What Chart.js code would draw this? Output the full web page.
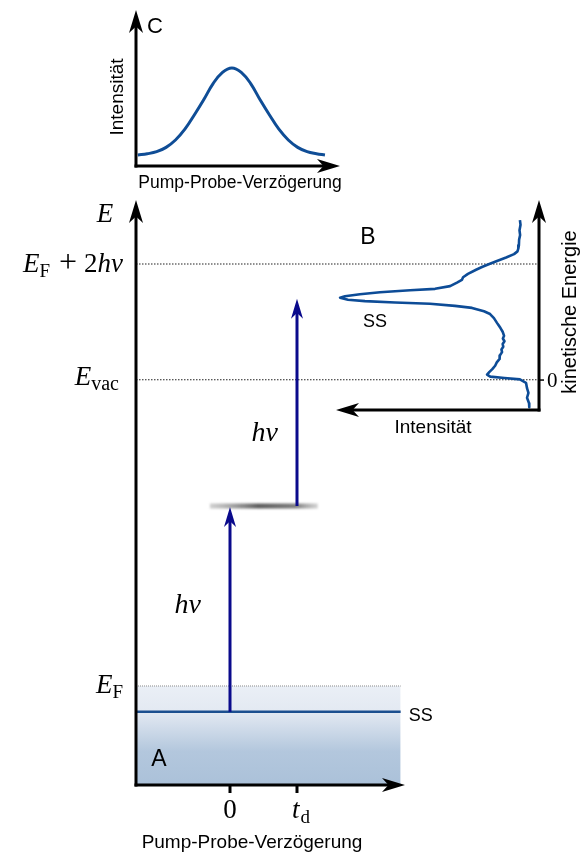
<!DOCTYPE html>
<html>
<head>
<meta charset="utf-8">
<script src="https://cdn.jsdelivr.net/npm/chart.js@4.4.0/dist/chart.umd.min.js"></script>
<style>
body{margin:0;background:#fff;}
#wrap{position:relative;width:581px;height:854px;}
#wrap canvas{position:absolute;left:0;top:0;}
</style>
</head>
<body>
<div id="wrap">
<canvas id="chartA" width="581" height="854"></canvas>
<canvas id="chartB" width="581" height="854"></canvas>
<canvas id="chartC" width="581" height="854"></canvas>
</div>
<script>
// --- A: energy scheme (eV relative to E_F) vs. pump-probe delay ---
const delayTicks = [0, 1];
const delayRange = [-1.403, 2.612];
const energyRange = [-1.455, 7.141];
const bandEnd = 2.547;
const levelEF = 0;
const levelSS = -0.38;
const levelInter = 2.645;
const interSpan = [-0.3, 1.31];
const levelVac = 4.5;
const levelTop = 6.2;           // E_F + 2hv
const dottedEnd = 4.63;
const pumpShaft = [levelSS, 2.44];
const probeShaft = [levelInter, 5.5];

// --- B: photoemission spectrum, kinetic energy (eV) vs. intensity ---
const kinEnergy = [2.35, 2.28, 2.20, 2.13, 2.06, 1.98, 1.93, 1.89, 1.85, 1.80, 1.75, 1.70, 1.66, 1.62,
  1.56, 1.51, 1.47, 1.43, 1.38, 1.34, 1.32, 1.29, 1.26, 1.23, 1.21, 1.18, 1.16, 1.14, 1.12, 1.09,
  1.06, 1.01, 0.97, 0.91, 0.84, 0.80, 0.76, 0.71, 0.65, 0.61, 0.57, 0.53, 0.49, 0.45, 0.41, 0.36,
  0.31, 0.26, 0.21, 0.16, 0.12, 0.08, 0.05, 0.03, 0.01, -0.04, -0.12, -0.19, -0.26, -0.34, -0.40];
const specIntensity = [9.4, 9.1, 9.6, 9.3, 9.8, 9.9, 10.2, 10.6, 12.3, 16.2, 20.7, 24.8, 28.1, 31.0,
  35.0, 37.4, 38.0, 40.4, 43.8, 51.2, 63.5, 78.3, 88.2, 95.6, 98.0, 94.1, 85.7, 70.9, 53.7, 41.4,
  33.0, 27.1, 24.1, 22.2, 20.7, 19.8, 18.9, 17.9, 17.2, 17.8, 17.0, 17.9, 17.6, 18.5, 18.2, 19.3,
  19.4, 20.8, 21.6, 23.0, 24.4, 25.6, 24.0, 17.0, 9.4, 6.4, 5.9, 5.2, 5.9, 4.9, 4.8];

// --- C: cross-correlation trace, intensity vs. delay (fs) ---
const delayC = [-100, -90, -80, -70, -60, -50, -40, -30, -20, -10, 0,
  10, 20, 30, 40, 50, 60, 70, 80, 90, 99];
const intensityC = [0.112, 0.125, 0.146, 0.19, 0.265, 0.375, 0.52, 0.675, 0.84, 0.955, 1.0,
  0.955, 0.84, 0.675, 0.52, 0.375, 0.265, 0.19, 0.146, 0.125, 0.112];

const SANS = '"Liberation Sans", Arial, sans-serif';
const SERIF = '"Liberation Serif", "Times New Roman", serif';
const NAVY = '#0a0a8c';

function pts(xs, ys) { return xs.map((x, i) => ({x: x, y: ys[i]})); }

function arrowHead(ctx, x, y, ang, len, wid, color) {
  ctx.save();
  ctx.translate(x, y);
  ctx.rotate(ang);
  ctx.beginPath();
  ctx.moveTo(0, 0);
  ctx.lineTo(-len, -wid / 2);
  ctx.lineTo(-len * 0.72, 0);
  ctx.lineTo(-len, wid / 2);
  ctx.closePath();
  ctx.fillStyle = color;
  ctx.fill();
  ctx.restore();
}

// draw an axis line ending in a stealth arrow
function axisArrow(ctx, x0, y0, x1, y1) {
  const ang = Math.atan2(y1 - y0, x1 - x0);
  const back = 23 * 0.7;
  ctx.save();
  ctx.strokeStyle = '#000';
  ctx.lineWidth = 3;
  ctx.beginPath();
  ctx.moveTo(x0, y0);
  ctx.lineTo(x1 - Math.cos(ang) * back, y1 - Math.sin(ang) * back);
  ctx.stroke();
  ctx.restore();
  arrowHead(ctx, x1, y1, ang, 23, 14, '#000');
}

// text made of pieces with their own fonts / vertical offsets
function drawParts(ctx, parts, x, y, align) {
  let w = 0;
  parts.forEach(p => { ctx.font = p.f; p.w = ctx.measureText(p.t).width; w += p.w + (p.gap || 0); });
  let cx = align === 'right' ? x - w : align === 'center' ? x - w / 2 : x;
  ctx.textAlign = 'left';
  ctx.textBaseline = 'alphabetic';
  parts.forEach(p => { ctx.font = p.f; ctx.fillText(p.t, cx, y + (p.dy || 0)); cx += p.w + (p.gap || 0); });
}

function rotatedText(ctx, txt, x, y, font) {
  ctx.save();
  ctx.translate(x, y);
  ctx.rotate(-Math.PI / 2);
  ctx.font = font;
  ctx.textAlign = 'center';
  ctx.textBaseline = 'middle';
  ctx.fillText(txt, 0, 0);
  ctx.restore();
}

function bandGradient(chart) {
  const a = chart.chartArea;
  if (!a) return '#c8d6e6';
  const y = chart.scales.y;
  const top = y.getPixelForValue(levelEF), bot = a.bottom;
  const ss = (y.getPixelForValue(levelSS) - top) / (bot - top);
  const g = chart.ctx.createLinearGradient(0, top, 0, bot);
  g.addColorStop(0, '#eaeff6');
  g.addColorStop(ss, '#e3e9f2');
  g.addColorStop(Math.min(1, ss + 0.4), '#b3c7dd');
  g.addColorStop(1, '#abc1d9');
  return g;
}

function levelGradient(chart) {
  const a = chart.chartArea;
  if (!a) return '#777';
  const x = chart.scales.x;
  const l = x.getPixelForValue(interSpan[0]), r = x.getPixelForValue(interSpan[1]);
  const g = chart.ctx.createLinearGradient(l, 0, r, 0);
  g.addColorStop(0, 'rgba(170,170,170,0.55)');
  g.addColorStop(0.45, 'rgba(75,75,75,0.9)');
  g.addColorStop(0.8, 'rgba(105,105,105,0.85)');
  g.addColorStop(1, 'rgba(175,175,175,0.55)');
  return g;
}

const blurPlugin = {
  id: 'blurLevel',
  beforeDatasetDraw(chart, args) {
    if (chart.data.datasets[args.index].blur) { chart.ctx.save(); chart.ctx.filter = 'blur(1.2px)'; }
  },
  afterDatasetDraw(chart, args) {
    if (chart.data.datasets[args.index].blur) chart.ctx.restore();
  }
};

const schemePlugin = {
  id: 'scheme',
  afterDatasetsDraw(chart) {
    const ctx = chart.ctx, a = chart.chartArea, x = chart.scales.x, y = chart.scales.y;
    // excitation arrows
    chart.data.datasets.forEach((ds, i) => {
      if (!ds.head) return;
      const d = chart.getDatasetMeta(i).data;
      const p = d[d.length - 1], q = d[d.length - 2];
      const ang = Math.atan2(p.y - q.y, p.x - q.x);
      arrowHead(ctx, p.x + Math.cos(ang) * 13, p.y + Math.sin(ang) * 13, ang, 20, 12, ds.borderColor);
    });
    axisArrow(ctx, a.left, a.bottom + 1.5, a.left, a.top);
    axisArrow(ctx, a.left - 1.5, a.bottom, a.right, a.bottom);
    ctx.save();
    ctx.strokeStyle = '#000';
    ctx.lineWidth = 3;
    delayTicks.forEach(t => {
      const px = x.getPixelForValue(t);
      ctx.beginPath(); ctx.moveTo(px, a.bottom); ctx.lineTo(px, a.bottom + 8); ctx.stroke();
    });
    ctx.restore();
  },
  afterDraw(chart) {
    const ctx = chart.ctx, a = chart.chartArea, x = chart.scales.x, y = chart.scales.y;
    ctx.save();
    ctx.fillStyle = '#000';
    const it = s => 'italic ' + s + 'px ' + SERIF, up = s => s + 'px ' + SERIF;
    drawParts(ctx, [{t: 'E', f: it(27)}], 105, a.top + 22, 'center');
    drawParts(ctx, [{t: 'E', f: it(27)}, {t: 'F', f: up(19), dy: 5, gap: 9},
      {t: '+', f: up(32), gap: 7}, {t: '2', f: up(27)}, {t: 'hν', f: it(27)}],
      123, y.getPixelForValue(levelTop) + 8, 'right');
    drawParts(ctx, [{t: 'E', f: it(27)}, {t: 'vac', f: up(20), dy: 5}],
      119, y.getPixelForValue(levelVac) + 5, 'right');
    drawParts(ctx, [{t: 'E', f: it(27)}, {t: 'F', f: up(19), dy: 5}],
      123, y.getPixelForValue(levelEF) + 7, 'right');
    drawParts(ctx, [{t: 'hν', f: it(28)}], x.getPixelForValue(0.52), 441, 'center');
    drawParts(ctx, [{t: 'hν', f: it(28)}], x.getPixelForValue(-0.63), 613, 'center');
    // delay tick labels
    drawParts(ctx, [{t: '0', f: up(27)}], x.getPixelForValue(delayTicks[0]), a.bottom + 33, 'center');
    drawParts(ctx, [{t: 't', f: it(27), gap: 1}, {t: 'd', f: up(19), dy: 5}],
      x.getPixelForValue(delayTicks[1]) - 5, a.bottom + 33, 'left');
    ctx.font = '19px ' + SANS;
    ctx.textAlign = 'center';
    ctx.textBaseline = 'middle';
    ctx.fillText('Pump-Probe-Verzögerung', 252, a.bottom + 58);
    ctx.font = '23px ' + SANS;
    ctx.fillText('A', a.left + 23, 760);
    ctx.font = '18px ' + SANS;
    ctx.textAlign = 'left';
    ctx.fillText('SS', x.getPixelForValue(bandEnd) + 8, y.getPixelForValue(levelSS) + 4);
    ctx.restore();
  }
};

const common = {
  responsive: false,
  animation: false,
  devicePixelRatio: 1,
  events: [],
  plugins: {legend: {display: false}, tooltip: {enabled: false}},
  elements: {point: {radius: 0}, line: {tension: 0}}
};

// higher "order" is painted first, so the band sits underneath everything
new Chart(document.getElementById('chartA'), {
  type: 'line',
  data: {datasets: [
    {data: pts([delayRange[0], bandEnd], [levelEF, levelEF]), fill: 'start', order: 6,
      backgroundColor: c => bandGradient(c.chart), borderColor: '#8c8c8c', borderWidth: 1, borderDash: [1, 1]},
    {data: pts([delayRange[0], bandEnd], [levelSS, levelSS]), borderColor: '#1c4f8f', borderWidth: 2.5, order: 5},
    {data: pts(interSpan, [levelInter, levelInter]), borderColor: c => levelGradient(c.chart),
      borderWidth: 5, blur: true, order: 4},
    {data: pts([delayRange[0], dottedEnd], [levelVac, levelVac]), borderColor: '#222',
      borderWidth: 1.1, borderDash: [1.5, 1.5], clip: false, order: 3},
    {data: pts([delayRange[0], dottedEnd], [levelTop, levelTop]), borderColor: '#222',
      borderWidth: 1.1, borderDash: [1.5, 1.5], clip: false, order: 3},
    {data: pts([delayTicks[0], delayTicks[0]], pumpShaft), borderColor: NAVY, borderWidth: 3, head: true, order: 1},
    {data: pts([delayTicks[1], delayTicks[1]], probeShaft), borderColor: NAVY, borderWidth: 3, head: true, order: 1}
  ]},
  options: Object.assign({}, common, {
    layout: {padding: {left: 136, right: 581 - 405, top: 200, bottom: 854 - 785}},
    scales: {
      x: {type: 'linear', min: delayRange[0], max: delayRange[1], display: false},
      y: {type: 'linear', min: energyRange[0], max: energyRange[1], display: false}
    }
  }),
  plugins: [blurPlugin, schemePlugin]
});

const spectrumPlugin = {
  id: 'spectrum',
  afterDatasetsDraw(chart) {
    const ctx = chart.ctx, a = chart.chartArea, x = chart.scales.x, y = chart.scales.y;
    const x0 = x.getPixelForValue(0);
    axisArrow(ctx, x0, a.bottom + 1.5, x0, a.top);
    axisArrow(ctx, x0 + 1.5, a.bottom, a.left, a.bottom);
    const y0 = y.getPixelForValue(0);
    ctx.save();
    ctx.strokeStyle = '#000';
    ctx.lineWidth = 1.5;
    ctx.beginPath(); ctx.moveTo(x0, y0); ctx.lineTo(x0 + 5, y0); ctx.stroke();
    ctx.fillStyle = '#000';
    ctx.font = '21px ' + SERIF;
    ctx.textAlign = 'left';
    ctx.textBaseline = 'middle';
    ctx.fillText('0', x0 + 8, y0 + 1);
    ctx.font = '23px ' + SANS;
    ctx.textAlign = 'center';
    ctx.fillText('B', a.left + 32, a.top + 38);
    ctx.font = '18px ' + SANS;
    ctx.fillText('SS', x.getPixelForValue(80.8), y.getPixelForValue(0.85));
    ctx.font = '19px ' + SANS;
    ctx.fillText('Intensität', 433, a.bottom + 18);
    rotatedText(ctx, 'kinetische Energie', x0 + 31, 312, '20px ' + SANS);
    ctx.restore();
  }
};

new Chart(document.getElementById('chartB'), {
  type: 'line',
  data: {datasets: [
    {data: pts(specIntensity, kinEnergy), borderColor: '#0d4c97', borderWidth: 2.6, borderJoinStyle: 'round'}
  ]},
  options: Object.assign({}, common, {
    layout: {padding: {left: 336, right: 581 - 539, top: 200, bottom: 854 - 410}},
    scales: {
      x: {type: 'linear', min: 0, max: 100, reverse: true, display: false},
      y: {type: 'linear', min: -0.44, max: 2.645, display: false}
    }
  }),
  plugins: [spectrumPlugin]
});

const tracePlugin = {
  id: 'trace',
  afterDatasetsDraw(chart) {
    const ctx = chart.ctx, a = chart.chartArea;
    axisArrow(ctx, a.left, a.bottom + 1.5, a.left, a.top);
    axisArrow(ctx, a.left - 1.5, a.bottom, a.right, a.bottom);
    ctx.save();
    ctx.fillStyle = '#000';
    ctx.textAlign = 'center';
    ctx.textBaseline = 'middle';
    ctx.font = '22px ' + SANS;
    ctx.fillText('C', a.left + 19, a.top + 17);
    ctx.font = '17.5px ' + SANS;
    ctx.fillText('Pump-Probe-Verzögerung', 240, a.bottom + 17);
    rotatedText(ctx, 'Intensität', a.left - 18, 97, '19px ' + SANS);
    ctx.restore();
  }
};

new Chart(document.getElementById('chartC'), {
  type: 'line',
  data: {datasets: [
    {data: pts(delayC, intensityC), borderColor: '#0f4d96', borderWidth: 3, tension: 0.4}
  ]},
  options: Object.assign({}, common, {
    layout: {padding: {left: 136, right: 581 - 340, top: 10, bottom: 854 - 166}},
    scales: {
      x: {type: 'linear', min: -102, max: 115, display: false},
      y: {type: 'linear', min: 0, max: 1.59, display: false}
    }
  }),
  plugins: [tracePlugin]
});
</script>
</body>
</html>
